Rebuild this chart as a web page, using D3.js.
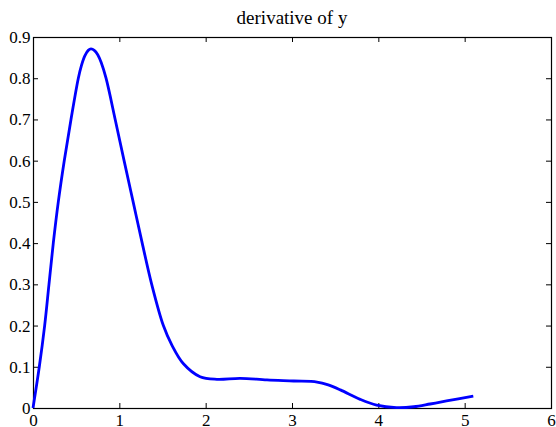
<!DOCTYPE html>
<html>
<head>
<meta charset="utf-8">
<script src="https://cdn.jsdelivr.net/npm/d3@7"></script>
<style>
  body { margin: 0; background: #fff; }
  text { font-family: "Liberation Serif", "DejaVu Serif", serif; fill: #000; }
</style>
</head>
<body>
<script>
// curve
var xs = [0, 0.073, 0.135, 0.185, 0.235, 0.293, 0.362, 0.44, 0.525, 0.56, 0.6, 0.64, 0.672, 0.71, 0.75,
          0.79, 0.846, 0.952, 1.055, 1.16, 1.265, 1.375, 1.51, 1.61, 1.74, 1.935, 2.13, 2.4, 2.71,
          3.02, 3.29, 3.42, 3.56, 3.79, 3.98, 4.21, 4.41, 4.6, 4.79, 5.1];
var ys = [0, 0.1, 0.2, 0.3, 0.4, 0.5, 0.6, 0.7, 0.8, 0.83, 0.854, 0.8676, 0.871, 0.8676, 0.857,
          0.838, 0.8, 0.7, 0.6, 0.5, 0.4, 0.3, 0.2, 0.152, 0.108, 0.076, 0.0696, 0.072, 0.068,
          0.0655, 0.063, 0.056, 0.044, 0.021, 0.007, 0.001, 0.003, 0.0097, 0.017, 0.029];
var xTicks = [0, 1, 2, 3, 4, 5, 6];
var yTicks = [0, 0.1, 0.2, 0.3, 0.4, 0.5, 0.6, 0.7, 0.8, 0.9];
var title = "derivative of y";

var width = 556, height = 427;
var plotL = 33, plotR = 551, plotT = 37, plotB = 408;

var svg = d3.select("body").append("svg")
    .attr("width", width)
    .attr("height", height);

var x = d3.scaleLinear().domain([0, 6]).range([plotL, plotR]);
var y = d3.scaleLinear().domain([0, 0.9]).range([plotB, plotT]);

var fmt = function (d) { return String(+d.toFixed(1)); };

// ticks point inwards on all four sides
function styleAxis(g) {
    g.select(".domain").remove();
    g.selectAll(".tick line").attr("stroke", "#000");
    g.selectAll("text")
        .attr("font-family", null)
        .attr("font-size", null)
        .style("font-family", "'Liberation Serif', 'DejaVu Serif', serif")
        .style("font-size", "17px");
}

svg.append("g")
    .attr("transform", "translate(0," + plotB + ")")
    .call(d3.axisBottom(x).tickValues(xTicks).tickFormat(fmt).tickSizeInner(-5).tickSizeOuter(0).tickPadding(6))
    .call(styleAxis);

svg.append("g")
    .attr("transform", "translate(0," + plotT + ")")
    .call(d3.axisTop(x).tickValues(xTicks).tickFormat("").tickSizeInner(-5).tickSizeOuter(0))
    .call(styleAxis);

svg.append("g")
    .attr("transform", "translate(" + plotL + ",0)")
    .call(d3.axisLeft(y).tickValues(yTicks).tickFormat(fmt).tickSizeInner(-5).tickSizeOuter(0).tickPadding(2.5))
    .call(styleAxis);

svg.append("g")
    .attr("transform", "translate(" + plotR + ",0)")
    .call(d3.axisRight(y).tickValues(yTicks).tickFormat("").tickSizeInner(-5).tickSizeOuter(0))
    .call(styleAxis);

// box
svg.append("rect")
    .attr("x", plotL + 0.5)
    .attr("y", plotT + 0.5)
    .attr("width", plotR - plotL)
    .attr("height", plotB - plotT)
    .attr("fill", "none")
    .attr("stroke", "#000")
    .attr("stroke-width", 1.2);

var line = d3.line()
    .x(function (d, i) { return x(xs[i]); })
    .y(function (d, i) { return y(ys[i]); })
    .curve(d3.curveCatmullRom.alpha(0.5));

svg.append("path")
    .datum(xs)
    .attr("d", line)
    .attr("fill", "none")
    .attr("stroke", "#0000ff")
    .attr("stroke-width", 2.8);

svg.append("text")
    .attr("x", (plotL + plotR) / 2)
    .attr("y", 24)
    .attr("text-anchor", "middle")
    .style("font-size", "19px")
    .text(title);
</script>
</body>
</html>
